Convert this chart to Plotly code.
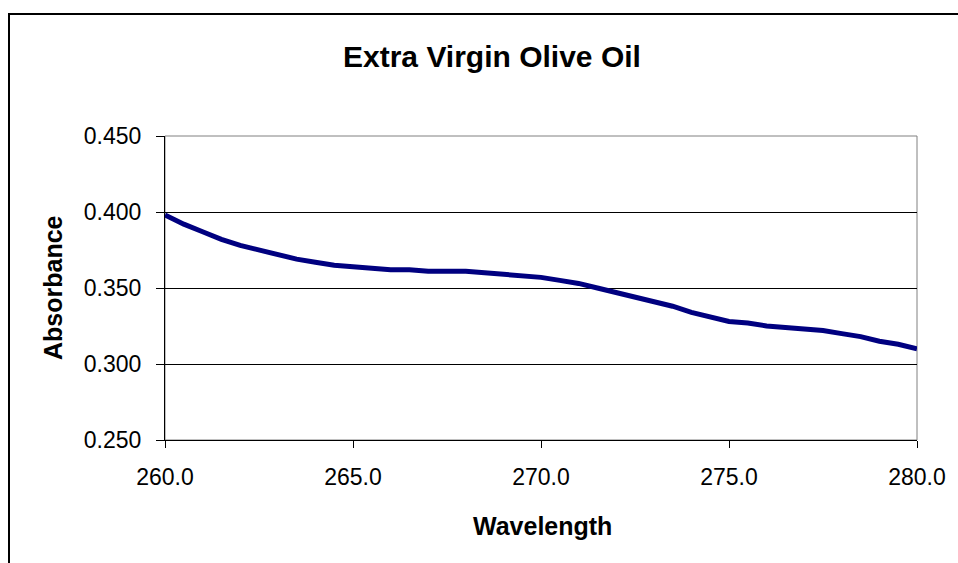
import plotly.graph_objects as go

wavelength = [260.0, 260.5, 261.0, 261.5, 262.0, 262.5, 263.0, 263.5, 264.0, 264.5,
              265.0, 265.5, 266.0, 266.5, 267.0, 267.5, 268.0, 268.5, 269.0, 269.5,
              270.0, 270.5, 271.0, 271.5, 272.0, 272.5, 273.0, 273.5, 274.0, 274.5,
              275.0, 275.5, 276.0, 276.5, 277.0, 277.5, 278.0, 278.5, 279.0, 279.5, 280.0]
absorbance = [0.398, 0.392, 0.387, 0.382, 0.378, 0.375, 0.372, 0.369, 0.367, 0.365,
              0.364, 0.363, 0.362, 0.362, 0.361, 0.361, 0.361, 0.360, 0.359, 0.358,
              0.357, 0.355, 0.353, 0.350, 0.347, 0.344, 0.341, 0.338, 0.334, 0.331,
              0.328, 0.327, 0.325, 0.324, 0.323, 0.322, 0.320, 0.318, 0.315, 0.313, 0.310]

title_text = "Extra Virgin Olive Oil"
x_title = "Wavelength"
y_title = "Absorbance"
x_ticks = [260, 265, 270, 275, 280]
y_ticks = [0.25, 0.30, 0.35, 0.40, 0.45]

FONT = "Liberation Sans, Arial, sans-serif"
W, H = 958, 563
L, R, T, B = 165, 41, 136, 123
pw, ph = W - L - R, H - T - B

fig = go.Figure()
fig.add_trace(go.Scatter(x=wavelength, y=absorbance, mode="lines",
                         line=dict(color="#000080", width=5), showlegend=False))

fig.update_layout(
    width=W, height=H,
    margin=dict(l=L, r=R, t=T, b=B),
    paper_bgcolor="white", plot_bgcolor="white",
    font=dict(family=FONT, color="black", size=23),
    xaxis=dict(range=[260, 280], tickvals=x_ticks,
               ticktext=[f"{v:.1f}" for v in x_ticks],
               showgrid=False, zeroline=False,
               showline=True, linecolor="black", linewidth=1,
               ticks="outside", ticklen=7, tickcolor="black",
               ticklabelstandoff=9,
               tickfont=dict(size=23)),
    yaxis=dict(range=[0.25, 0.45], tickvals=y_ticks,
               ticktext=[f"{v:.3f}" for v in y_ticks],
               showgrid=True, gridcolor="black", gridwidth=1, zeroline=False,
               showline=True, linecolor="black", linewidth=1,
               ticks="outside", ticklen=8, tickcolor="black",
               ticklabelstandoff=10,
               tickfont=dict(size=23)),
)

# plot area border (gray)
fig.add_shape(type="rect", xref="paper", yref="paper", x0=0, y0=0, x1=1, y1=1,
              line=dict(color="#808080", width=1), layer="below")
# outer chart frame (extends beyond the picture on right and bottom)
fig.add_shape(type="rect", xref="paper", yref="paper",
              x0=(9 - L) / pw, x1=(W + 20 - L) / pw,
              y0=-(B + 20) / ph, y1=(H - B - 14) / ph,
              line=dict(color="black", width=2))

fig.add_annotation(text=f"<b>{title_text}</b>", xref="paper", yref="paper",
                   x=(492 - L) / pw, y=(H - B - 56) / ph, showarrow=False,
                   font=dict(size=30, family=FONT), xanchor="center", yanchor="middle")
fig.add_annotation(text=f"<b>{x_title}</b>", xref="paper", yref="paper",
                   x=(542 - L) / pw, y=(H - B - 526) / ph, showarrow=False,
                   font=dict(size=25, family=FONT), xanchor="center", yanchor="middle")
fig.add_annotation(text=f"<b>{y_title}</b>", xref="paper", yref="paper",
                   x=(53 - L) / pw, y=(H - B - 288) / ph, showarrow=False, textangle=-90,
                   font=dict(size=25, family=FONT), xanchor="center", yanchor="middle")

fig.write_html("out.html", config={"displayModeBar": False},
               post_script="document.body.style.margin='0px';document.body.style.overflow='hidden';")
